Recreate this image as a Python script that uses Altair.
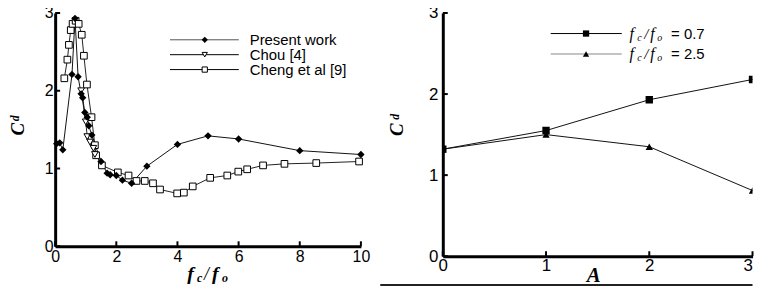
import altair as alt
import pandas as pd

# ---------------- data ----------------
pw_x = [0.05, 0.15, 0.25, 0.55, 0.65, 0.75, 0.85, 0.9, 0.97, 1.05, 1.1, 1.2, 1.5, 1.7, 1.8, 2.0, 2.2, 2.5, 3.0, 4.0, 5.0, 6.0, 8.0, 10.0]
pw_y = [1.32, 1.33, 1.24, 2.21, 2.93, 2.18, 1.96, 1.91, 1.72, 1.66, 1.55, 1.43, 1.09, 0.94, 0.92, 0.91, 0.85, 0.81, 1.03, 1.31, 1.42, 1.38, 1.23, 1.18]
chou_x = [0.85, 1.0, 1.05, 1.14, 1.25, 1.3]
chou_y = [2.0, 1.6, 1.41, 1.34, 1.26, 1.18]
cheng_x = [0.3, 0.4, 0.45, 0.51, 0.57, 0.67, 0.77, 0.87, 0.94, 1.04, 1.19, 1.3, 1.34, 1.53, 2.05, 2.4, 2.66, 2.93, 3.2, 3.43, 3.99, 4.21, 4.5, 5.07, 5.63, 5.99, 6.28, 6.8, 7.5, 8.54, 9.94]
cheng_y = [2.16, 2.40, 2.59, 2.78, 2.86, 2.90, 2.86, 2.72, 2.45, 2.08, 1.66, 1.30, 1.17, 1.04, 0.95, 0.91, 0.84, 0.84, 0.81, 0.73, 0.68, 0.69, 0.77, 0.88, 0.91, 0.96, 0.99, 1.04, 1.06, 1.07, 1.09]
amp = [0, 1, 2, 3]
cd_07 = [1.32, 1.55, 1.93, 2.18]
cd_25 = [1.32, 1.50, 1.35, 0.81]

left_xticks = [0, 2, 4, 6, 8, 10]
yticks = [0, 1, 2, 3]
right_xticks = [0, 1, 2, 3]
left_names = ["Present work", "Chou [4]", "Cheng et al [9]"]

W1, H1 = 308, 235
W2, H2 = 312, 245
SERIF = "Liberation Serif"
SANS = "Liberation Sans"


def axis(values, size, pad, align="center"):
    return alt.Axis(values=values, ticks=False, grid=False, domainWidth=3,
                    domainColor="black", labelFont=SANS, labelFontSize=size,
                    labelColor="black", labelPadding=pad, labelFlush=False,
                    labelOverlap=False, format="d", title=None, labelAlign=align)


def one():
    return pd.DataFrame({"a": [0]})


def txt(s, x, y, size, font=SANS, style="normal", weight="normal", angle=0,
        align="left", baseline="middle"):
    return alt.Chart(pd.DataFrame({"t": [s]})).mark_text(
        font=font, fontSize=size, fontStyle=style, fontWeight=weight,
        angle=angle, align=align, baseline=baseline, color="black"
    ).encode(text="t:N", x=alt.value(x), y=alt.value(y))


def lrule(x1, x2, y, color="black", w=1):
    return alt.Chart(one()).mark_rule(color=color, strokeWidth=w).encode(
        x=alt.value(x1), x2=alt.value(x2), y=alt.value(y))


def lpoint(x, y, shape, size, filled):
    if filled:
        m = alt.Chart(one()).mark_point(shape=shape, size=size, filled=True,
                                        color="black", opacity=1)
    else:
        m = alt.Chart(one()).mark_point(shape=shape, size=size, filled=False,
                                        fill="white", fillOpacity=1,
                                        stroke="black", strokeWidth=1, opacity=1)
    return m.encode(x=alt.value(x), y=alt.value(y))


# ---------------- left panel ----------------
xs1 = alt.X("x:Q", scale=alt.Scale(domain=[0, 10], nice=False, zero=False), axis=axis(left_xticks, 16, 2))
ys1 = alt.Y("y:Q", scale=alt.Scale(domain=[0, 3], nice=False), axis=axis(yticks, 16, 2, "right"))

pw = pd.DataFrame({"x": pw_x, "y": pw_y})
ch = pd.DataFrame({"x": chou_x, "y": chou_y})
cg = pd.DataFrame({"x": cheng_x, "y": cheng_y})

left_layers = [
    alt.Chart(cg).mark_line(color="#222", strokeWidth=1).encode(x=xs1, y=ys1),
    alt.Chart(ch).mark_line(color="#222", strokeWidth=1).encode(x=xs1, y=ys1),
    alt.Chart(pw).mark_line(color="#111", strokeWidth=1).encode(x=xs1, y=ys1),
    alt.Chart(cg).mark_point(shape="square", size=45, filled=False, fill="white",
                             fillOpacity=1, stroke="black", strokeWidth=1, opacity=1).encode(x=xs1, y=ys1),
    alt.Chart(ch).mark_point(shape="triangle-down", size=45, filled=False, fill="white",
                             fillOpacity=1, stroke="black", strokeWidth=1, opacity=1).encode(x=xs1, y=ys1),
    alt.Chart(pw).mark_point(shape="diamond", size=55, filled=True, color="black",
                             opacity=1).encode(x=xs1, y=ys1),
    alt.Chart(pd.DataFrame({"y": yticks})).mark_rule(color="black", strokeWidth=2).encode(
        y=ys1, x=alt.value(0), x2=alt.value(5)),
    alt.Chart(pd.DataFrame({"x": left_xticks})).mark_rule(color="black", strokeWidth=2).encode(
        x=xs1, y=alt.value(H1), y2=alt.value(H1 - 5)),
    # legend
    lrule(115.7, 185, 27, "#555"), lpoint(150.7, 27, "diamond", 40, True),
    txt(left_names[0], 196, 27, 15),
    lrule(115.7, 185, 42, "black"), lpoint(150.7, 42, "triangle-down", 28, False),
    txt(left_names[1], 196, 42, 15),
    lrule(115.7, 185, 57, "black"), lpoint(150.7, 57, "square", 28, False),
    txt(left_names[2], 196, 57, 15),
    # axis titles
    txt("C", -37, 117, 19, SERIF, "italic", "bold", 270, "center"),
    txt("d", -40, 106, 12, SERIF, "italic", "bold", 270, "center"),
    txt("f", 133, 269, 20, SERIF, "italic", "bold", 0, "left", "alphabetic"),
    txt("c", 143, 271, 12, SERIF, "italic", "bold", 0, "left", "alphabetic"),
    txt("/", 150, 269, 18, SERIF, "italic", "normal", 0, "left", "alphabetic"),
    txt("f", 158, 269, 20, SERIF, "italic", "bold", 0, "left", "alphabetic"),
    txt("o", 168, 271, 12, SERIF, "italic", "bold", 0, "left", "alphabetic"),
]
left = alt.layer(*left_layers).properties(width=W1, height=H1)

# ---------------- right panel ----------------
x_align = {"condition": {"test": "datum.value == 3", "value": "right"}, "value": "center"}
xs2 = alt.X("x:Q", scale=alt.Scale(domain=[0, 3], nice=False, zero=False), axis=axis(right_xticks, 17, 1, x_align))
ys2 = alt.Y("y:Q", scale=alt.Scale(domain=[0, 3], nice=False), axis=axis(yticks, 17, 5, "right"))

r07 = pd.DataFrame({"x": amp, "y": cd_07})
r25 = pd.DataFrame({"x": amp, "y": cd_25})

right_layers = [
    alt.Chart(r07).mark_line(color="#111", strokeWidth=1).encode(x=xs2, y=ys2),
    alt.Chart(r25).mark_line(color="#111", strokeWidth=1).encode(x=xs2, y=ys2),
    alt.Chart(r07).mark_point(shape="square", size=55, filled=True, color="black", opacity=1, clip=True).encode(x=xs2, y=ys2),
    alt.Chart(r25).mark_point(shape="triangle-up", size=55, filled=True, color="black", opacity=1, clip=True).encode(x=xs2, y=ys2),
    alt.Chart(pd.DataFrame({"y": yticks})).mark_rule(color="black", strokeWidth=2).encode(
        y=ys2, x=alt.value(0), x2=alt.value(5)),
    alt.Chart(pd.DataFrame({"x": right_xticks})).mark_rule(color="black", strokeWidth=2).encode(
        x=xs2, y=alt.value(H2), y2=alt.value(H2 - 5)),
    # legend
    lrule(108.7, 180.3, 20.7, "black"), lpoint(144.3, 20.7, "square", 40, True),
    txt("f", 188, 20.7, 16, SERIF, "italic"), txt("c", 196, 25, 10, SERIF, "italic"),
    txt("/", 203, 20.7, 15, SERIF, "italic"), txt("f", 209, 20.7, 16, SERIF, "italic"),
    txt("o", 216, 25, 10, SERIF, "italic"), txt("= 0.7", 230, 20.7, 15),
    lrule(108.7, 180.3, 41.3, "#888"), lpoint(144.3, 41.3, "triangle-up", 40, True),
    txt("f", 188, 41.3, 16, SERIF, "italic"), txt("c", 196, 45.6, 10, SERIF, "italic"),
    txt("/", 203, 41.3, 15, SERIF, "italic"), txt("f", 209, 41.3, 16, SERIF, "italic"),
    txt("o", 216, 45.6, 10, SERIF, "italic"), txt("= 2.5", 230, 41.3, 15),
    # axis titles
    txt("C", -46, 117.5, 19, SERIF, "italic", "bold", 270, "center"),
    txt("d", -48.5, 104.5, 12, SERIF, "italic", "bold", 270, "center"),
    txt("A", 152, 271, 21, SERIF, "italic", "bold", 0, "center", "alphabetic"),
    # bottom line
    lrule(-63, 312, 274, "#222", 2),
]
right = alt.layer(*right_layers).properties(width=W2, height=H2)

chart = alt.hconcat(left, right, spacing=9.5).properties(
    padding={"left": 1.5, "top": -5, "right": 0, "bottom": 0}
).configure_view(stroke=None)

chart.save("out.html", embed_options={"renderer": "svg", "actions": False})
